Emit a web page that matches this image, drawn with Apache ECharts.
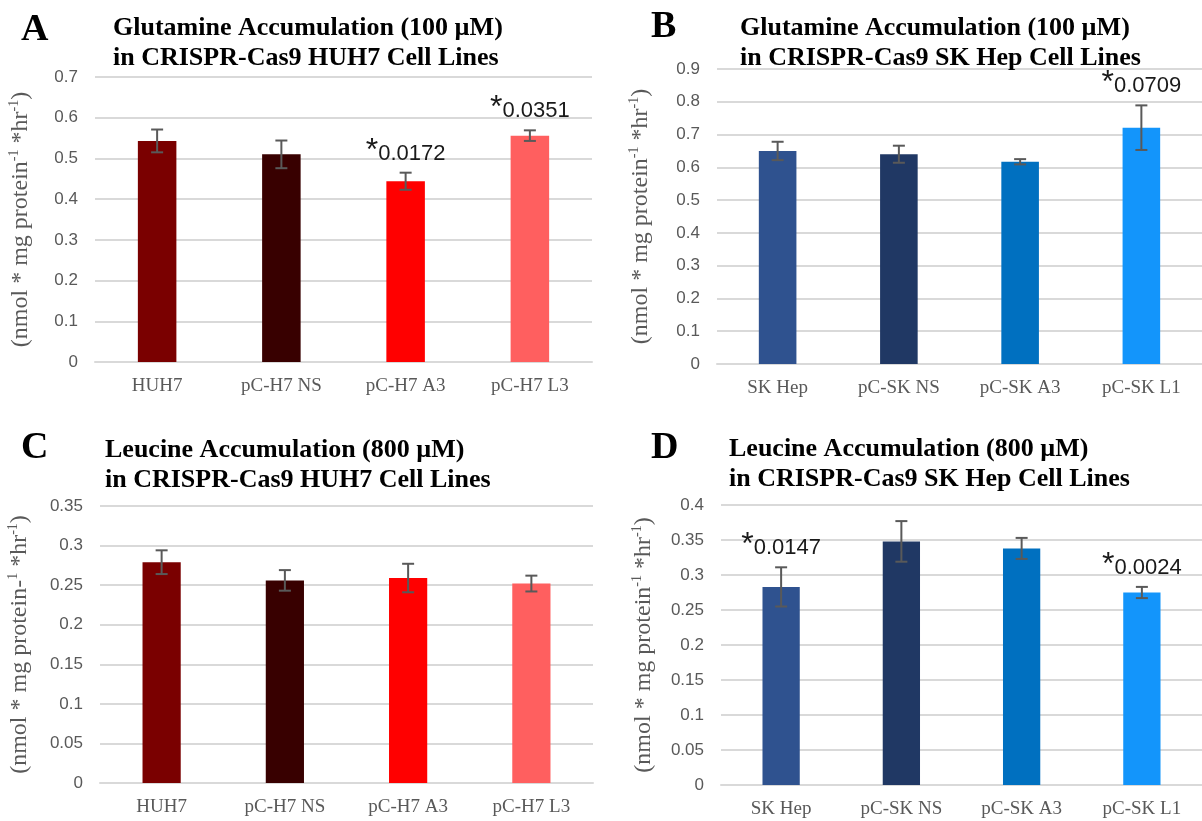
<!DOCTYPE html>
<html>
<head>
<meta charset="utf-8">
<script src="https://cdn.jsdelivr.net/npm/echarts@6/dist/echarts.min.js"></script>
<style>
html,body{margin:0;padding:0;background:#fff;}
#chart{width:1202px;height:821px;}
</style>
</head>
<body>
<div id="chart"></div>
<script>
// ---------- data ----------
const catsHUH = ['HUH7', 'pC-H7 NS', 'pC-H7 A3', 'pC-H7 L3'];
const catsSK = ['SK Hep', 'pC-SK NS', 'pC-SK A3', 'pC-SK L1'];

const valsA = [0.543, 0.510, 0.444, 0.556];
const errsA = [0.028, 0.034, 0.021, 0.013];
const sigA = ['', '', '0.0172', '0.0351'];

const valsB = [0.650, 0.640, 0.617, 0.721];
const errsB = [0.028, 0.026, 0.008, 0.068];
const sigB = ['', '', '', '0.0709'];

const valsC = [0.279, 0.256, 0.259, 0.252];
const errsC = [0.015, 0.013, 0.018, 0.010];
const sigC = ['', '', '', ''];

const valsD = [0.283, 0.348, 0.338, 0.275];
const errsD = [0.028, 0.029, 0.015, 0.008];
const sigD = ['0.0147', '', '', '0.0024'];

const colorsRed = ['#7A0000', '#380000', '#FF0000', '#FF5F5F'];
const colorsBlue = ['#2F528F', '#203864', '#0070C0', '#1395FB'];

const titlesMain = [
  'Glutamine Accumulation (100 µM)\nin CRISPR-Cas9 HUH7 Cell Lines',
  'Glutamine Accumulation (100 µM)\nin CRISPR-Cas9 SK Hep Cell Lines',
  'Leucine Accumulation (800 µM)\nin CRISPR-Cas9 HUH7 Cell Lines',
  'Leucine Accumulation (800 µM)\nin CRISPR-Cas9 SK Hep Cell Lines'
];
const letters = ['A', 'B', 'C', 'D'];
const yMax = [0.7, 0.9, 0.35, 0.4];
const yStep = [0.1, 0.1, 0.05, 0.05];
const yNames = [
  '(nmol * mg protein{sup|-1} *hr{sup|-1})',
  '(nmol * mg protein{sup|-1} *hr{sup|-1})',
  '(nmol * mg protein-{sup|1} *hr{sup|-1})',
  '(nmol * mg protein{sup|-1} *hr{sup|-1})'
];

// ---------- layout ----------
const grids = [
  {left: 95, top: 77, width: 497, height: 285},
  {left: 717, top: 69, width: 493, height: 295},
  {left: 100, top: 506, width: 493, height: 277},
  {left: 721, top: 505, width: 481, height: 280}
];
const letterPos = [[16, 6], [646, 3], [16, 424], [646, 424]];
const titlePos = [[108, 8], [735, 8], [100, 430], [724, 429]];
const nameGaps = [61, 63, 67, 64];

const panels = [
  {cats: catsHUH, vals: valsA, errs: errsA, sig: sigA, colors: colorsRed},
  {cats: catsSK, vals: valsB, errs: errsB, sig: sigB, colors: colorsBlue},
  {cats: catsHUH, vals: valsC, errs: errsC, sig: sigC, colors: colorsRed},
  {cats: catsSK, vals: valsD, errs: errsD, sig: sigD, colors: colorsBlue}
];

const gray = '#595959';
const gridColor = '#D9D9D9';

const option = {
  animation: false,
  backgroundColor: '#fff',
  title: [],
  grid: [],
  xAxis: [],
  yAxis: [],
  series: []
};

panels.forEach((p, k) => {
  option.title.push({
    text: letters[k], left: letterPos[k][0], top: letterPos[k][1],
    textStyle: {fontFamily: 'Liberation Serif', fontWeight: 'bold', fontSize: 38, color: '#000'}
  });
  option.title.push({
    text: titlesMain[k], left: titlePos[k][0], top: titlePos[k][1],
    textStyle: {fontFamily: 'Liberation Serif', fontWeight: 'bold', fontSize: 26, lineHeight: 30, color: '#000'}
  });
  option.grid.push(Object.assign({containLabel: false}, grids[k]));
  option.xAxis.push({
    type: 'category', gridIndex: k, data: p.cats,
    axisTick: {show: false},
    axisLine: {lineStyle: {color: gridColor, width: 2}},
    axisLabel: {fontFamily: 'Liberation Serif', fontSize: 19, color: gray, margin: 15, interval: 0}
  });
  option.yAxis.push({
    type: 'value', gridIndex: k, min: 0, max: yMax[k], interval: yStep[k],
    axisLine: {show: false}, axisTick: {show: false},
    splitLine: {lineStyle: {color: gridColor, width: 2}},
    axisLabel: {fontFamily: 'Liberation Sans', fontSize: 17, color: gray, margin: 17,
      formatter: v => String(parseFloat(v.toFixed(3)))},
    name: yNames[k], nameLocation: 'middle', nameRotate: 90, nameGap: nameGaps[k],
    nameTextStyle: {fontFamily: 'Liberation Serif', fontSize: 24, color: gray,
      rich: {sup: {fontFamily: 'Liberation Serif', fontSize: 14, color: gray, verticalAlign: 'top', lineHeight: 27}}}
  });
  option.series.push({
    type: 'bar', xAxisIndex: k, yAxisIndex: k, barWidth: '31%',
    data: p.vals.map((v, i) => ({value: v, itemStyle: {color: p.colors[i]}}))
  });
  option.series.push({
    type: 'custom', xAxisIndex: k, yAxisIndex: k, z: 10,
    data: p.vals.map((v, i) => [i, v, p.errs[i]]),
    renderItem: function (params, api) {
      const i = api.value(0), v = api.value(1), e = api.value(2);
      const hi = api.coord([i, v + e]);
      const lo = api.coord([i, v - e]);
      const hw = 6;
      const st = {stroke: gray, lineWidth: 2};
      const children = [
        {type: 'line', shape: {x1: hi[0], y1: hi[1], x2: lo[0], y2: lo[1]}, style: st},
        {type: 'line', shape: {x1: hi[0] - hw, y1: hi[1], x2: hi[0] + hw, y2: hi[1]}, style: st},
        {type: 'line', shape: {x1: lo[0] - hw, y1: lo[1], x2: lo[0] + hw, y2: lo[1]}, style: st}
      ];
      const s = p.sig[params.dataIndex];
      if (s) {
        children.push({
          type: 'text', x: hi[0], y: hi[1] - 8,
          style: {
            text: '{s|*}{n|' + s + '}',
            align: 'center', verticalAlign: 'bottom',
            rich: {
              s: {fontFamily: 'Liberation Sans', fontSize: 32, fill: '#1a1a1a', verticalAlign: 'top', lineHeight: 30},
              n: {fontFamily: 'Liberation Sans', fontSize: 22, fill: '#1a1a1a', verticalAlign: 'bottom', lineHeight: 22}
            }
          }
        });
      }
      return {type: 'group', children: children};
    }
  });
});

const chart = echarts.init(document.getElementById('chart'), null, {renderer: 'canvas'});
chart.setOption(option);
</script>
</body>
</html>
